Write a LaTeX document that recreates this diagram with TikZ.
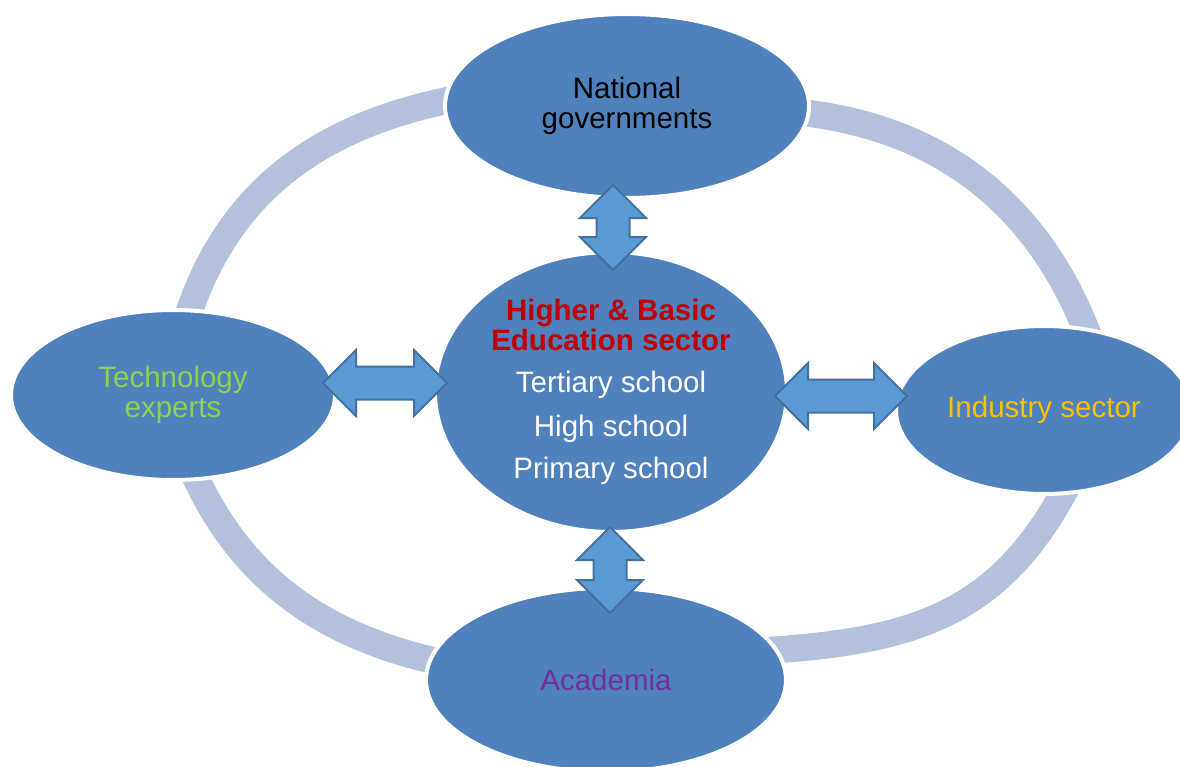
\documentclass[tikz,border=0pt]{standalone}
\usepackage{fontspec}
\setmainfont{Liberation Sans}
\usetikzlibrary{calc,shapes.geometric}
\definecolor{nodeBlue}{RGB}{79,129,189}
\definecolor{ringBlue}{RGB}{179,193,220}
\definecolor{linkBlue}{RGB}{91,155,213}
\definecolor{linkBlueDark}{RGB}{65,113,156}
\definecolor{eduRed}{RGB}{192,0,0}
\definecolor{techGreen}{RGB}{146,208,80}
\definecolor{indGold}{RGB}{255,192,0}
\definecolor{acadPurple}{RGB}{112,48,160}
\tikzset{
  actor/.style={ellipse, fill=nodeBlue, draw=white, line width=0.08cm, inner sep=0pt,
    align=center, font=\fontsize{16.8}{17.2}\selectfont},
  ring/.style={ringBlue, line width=0.54cm},
  linkarrow/.style={fill=linkBlue, draw=linkBlueDark, line width=0.04cm}
}
% two-headed block arrows between two tip coordinates
\newcommand{\updown}[2]{%
  \draw[linkarrow] (#1) -- ++(33,33) -- ++(-16.5,0) -- ($(#2)+(16.5,-33)$) -- ++(16.5,0)
    -- (#2) -- ++(-33,-33) -- ++(16.5,0) -- ($(#1)+(-16.5,33)$) -- ++(-16.5,0) -- cycle;}
\newcommand{\leftright}[2]{%
  \draw[linkarrow] (#1) -- ++(33,-33) -- ++(0,16.5) -- ($(#2)+(-33,-16.5)$) -- ++(0,-16.5)
    -- (#2) -- ++(-33,33) -- ++(0,-16.5) -- ($(#1)+(33,16.5)$) -- ++(0,16.5) -- cycle;}
\begin{document}
\begin{tikzpicture}[x=0.02cm,y=-0.02cm]
\useasboundingbox (0,0) rectangle (1180,767);
\clip (0,0) rectangle (1180,767);

% ring behind the actors, one arc per quarter
\draw[ring] (182,335) .. controls (225,180) and (336,115) .. (490,93);
\draw[ring] (770,110) .. controls (935,118) and (1046,203) .. (1097,360);
\draw[ring] (1080,460) .. controls (1006,619) and (915,643) .. (740,652);
\draw[ring] (186,455) .. controls (238,585) and (332,644) .. (470,668);

% actors
\node[actor, minimum width=7.28cm, minimum height=3.68cm] (gov) at (627,106) {National\\governments};
\node[actor, minimum width=7.04cm, minimum height=5.6cm, text=white] (edu) at (611,392)
  {\textcolor{eduRed}{\bfseries Higher \& Basic}\\\textcolor{eduRed}{\bfseries Education sector}\\[0.24cm]
   Tertiary school\\[0.26cm]High school\\[0.25cm]Primary school};
\node[actor, minimum width=6.48cm, minimum height=3.4cm, text=techGreen] (tech) at (173,395) {Technology\\experts};
\node[actor, minimum width=5.92cm, minimum height=3.36cm, text=indGold] (ind) at (1044,410) {Industry sector};
\node[actor, minimum width=7.2cm, minimum height=3.68cm, text=acadPurple] (acad) at (606,680) {Academia};

% arrow tips
\coordinate (govtip) at (613,185);
\coordinate (edutop) at (613,270);
\coordinate (edubot) at (610,527);
\coordinate (acadtip) at (610,613);
\coordinate (techtip) at (323,383);
\coordinate (eduleft) at (447,383);
\coordinate (eduright) at (775,396);
\coordinate (indtip) at (907,396);

\updown{govtip}{edutop}
\updown{edubot}{acadtip}
\leftright{techtip}{eduleft}
\leftright{eduright}{indtip}
\end{tikzpicture}
\end{document}
